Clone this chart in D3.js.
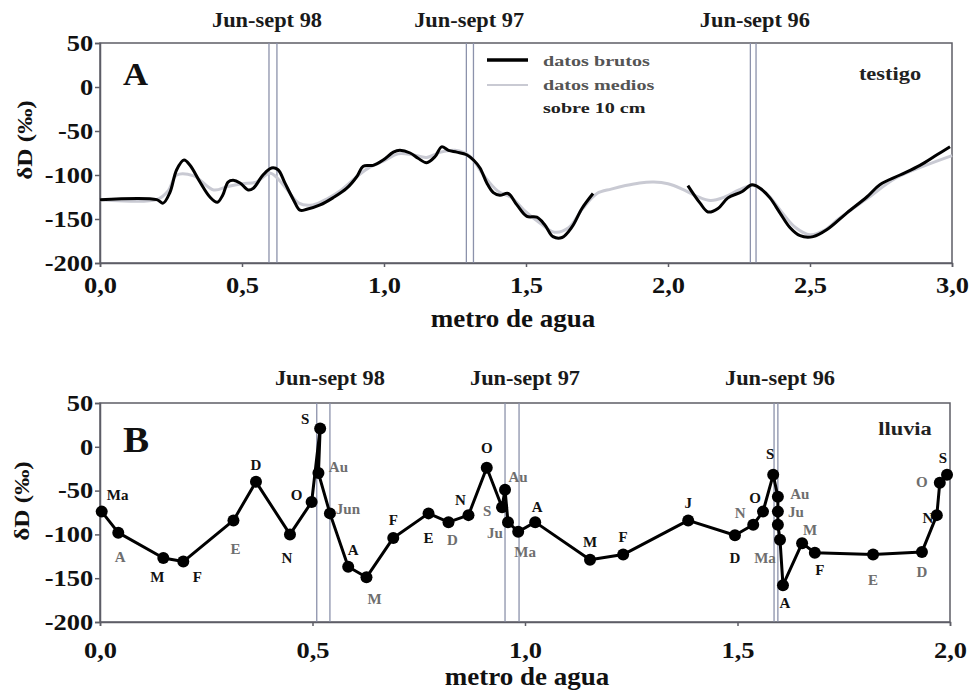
<!DOCTYPE html>
<html>
<head>
<meta charset="utf-8">
<script src="https://cdn.jsdelivr.net/npm/d3@7"></script>
<style>
  body { margin: 0; background: #fff; }
  text { font-family: "Liberation Serif", "Times New Roman", serif; font-weight: bold; }
</style>
</head>
<body>
<script>
// panel A (testigo): raw and 10 cm averaged deltaD vs depth
var rawDepth = [0, 0.2, 0.222, 0.246, 0.27, 0.296, 0.317, 0.352, 0.387, 0.413, 0.432, 0.451, 0.469, 0.493,
  0.522, 0.54, 0.574, 0.604, 0.627, 0.651, 0.681, 0.704, 0.728, 0.775, 0.82, 0.869, 0.904, 0.927, 0.962,
  0.997, 1.033, 1.056, 1.092, 1.12, 1.15, 1.18, 1.203, 1.227, 1.256, 1.291, 1.315, 1.338, 1.362, 1.385,
  1.408, 1.437, 1.468, 1.503, 1.538, 1.567, 1.595, 1.627, 1.662, 1.697, 1.736, 1.9,
  2.07, 2.113, 2.141, 2.176, 2.211, 2.26, 2.296, 2.324, 2.359, 2.394, 2.43, 2.465, 2.511, 2.56, 2.63,
  2.7, 2.746, 2.817, 2.887, 2.947, 2.993];
var rawDelta = [-128, -128, -132, -120, -94, -83, -89, -108, -125, -131, -123, -108, -106, -109,
  -117, -115, -100, -92, -94, -109, -128, -140, -139, -134, -126, -115, -102, -90, -89,
  -83, -74, -72, -75, -81, -86, -79, -68, -72, -74, -77, -83, -92, -109, -120,
  -123, -121, -134, -147, -148, -157, -170, -171, -159, -138, -121, null,
  -112, -132, -142, -138, -126, -119, -111, -115, -126, -143, -160, -169, -170, -162, -143,
  -125, -111, -100, -89, -77, -68];

var avgDepth = [0, 0.2, 0.24, 0.27, 0.33, 0.4, 0.45, 0.5, 0.55, 0.6, 0.65, 0.7, 0.75, 0.8, 0.85, 0.9,
  0.95, 1.0, 1.05, 1.1, 1.15, 1.2, 1.25, 1.3, 1.35, 1.4, 1.45, 1.5, 1.55, 1.6, 1.65, 1.7, 1.75, 1.8,
  1.85, 1.9, 1.95, 2.0, 2.05, 2.1, 2.15, 2.2, 2.25, 2.3, 2.35, 2.4, 2.45, 2.5, 2.55, 2.6, 2.7, 2.8,
  2.9, 3.0];
var avgDelta = [-128, -128, -118, -100, -101, -117, -113, -110, -108, -98, -113, -132, -134, -127, -117, -103,
  -91, -84, -76, -77, -80, -74, -72, -78, -100, -118, -126, -142, -155, -165, -160, -138, -121, -116,
  -112, -109, -108, -110, -116, -124, -129, -125, -117, -112, -122, -142, -160, -168, -163, -150, -127, -104,
  -90, -78];

var periodLinesA = [0.595, 0.623, 1.29, 1.315, 2.29, 2.31];
var periodLabelDepthA = [0.588, 1.30, 2.306];
var periodLabels = ["Jun-sept 98", "Jun-sept 97", "Jun-sept 96"];

// panel B (lluvia): monthly samples
var bDepth = [0.004, 0.043, 0.149, 0.196, 0.314, 0.367, 0.447, 0.498, 0.518, 0.514, 0.541, 0.584, 0.627,
  0.69, 0.773, 0.82, 0.867, 0.91, 0.946, 0.953, 0.96, 0.984, 1.024, 1.153, 1.231, 1.384, 1.494, 1.537,
  1.56, 1.584, 1.595, 1.595, 1.595, 1.6, 1.607, 1.652, 1.682, 1.819, 1.934, 1.969, 1.976, 1.993];
var bDelta = [-74, -98, -127, -131, -84, -40, -100, -63, 21, -30, -76, -137, -149,
  -104, -76, -86, -78, -24, -69, -49, -86, -97, -86, -129, -123, -84, -101, -89,
  -74, -32, -57, -74, -89, -106, -158, -110, -121, -123, -120, -78, -41, -32];
var bMonth = ["Ma", "A", "M", "F", "E", "D", "N", "O", "S", "Au", "Jun", "A", "M",
  "F", "E", "D", "N", "O", "S", "Au", "Ju", "Ma", "A", "M", "F", "J", "D", "N",
  "O", "S", "Au", "Ju", "", "Ma", "A", "M", "F", "E", "D", "N", "O", "S"];

var periodLinesB = [0.51, 0.541, 0.953, 0.986, 1.586, 1.595];
var periodLabelDepthB = [0.541, 1.0, 1.6];

// label offsets (px) from each dot, and which month labels print grey
var bLabelOffset = [[16, -17], [2, 24], [-6, 19], [14, 15], [2, 28], [0, -17], [-3, 23], [-15, -7], [-15, -10],
  [20, -6], [18, -5], [5, -17], [8, 21], [0, -18], [0, 24], [4, 18], [-8, -15], [0, -20], [-15, 4],
  [13, -13], [-13, 11], [7, 20], [2, -15], [0, -18], [0, -18], [0, -18], [0, 22], [-13, -12], [-8, -14],
  [-3, -21], [22, -3], [18, 0], [0, 0], [-15, 18], [2, 18], [8, -13], [5, 17], [0, 25], [0, 20], [-9, 3],
  [-18, -1], [-4, -17]];
var greyLabels = [1, 4, 9, 10, 12, 15, 18, 19, 20, 21, 27, 30, 31, 33, 35, 37, 38, 40];

var w = 974;
var h = 696;

var svg = d3.select("body").append("svg").attr("width", w).attr("height", h);

var loc = d3.formatLocale({decimal: ",", thousands: ".", grouping: [3], currency: ["", ""], minus: "-"});

// the original type is a wide bold Times, so stretch text horizontally
function wideText(x, y, str, size, sx, anchor, fill, rot) {
  var g = svg.append("g")
    .attr("transform", "translate(" + x + "," + y + ")" + (rot ? " rotate(" + rot + ")" : ""));
  return g.append("text")
    .attr("transform", "scale(" + sx + ",1)")
    .attr("text-anchor", anchor || "start")
    .style("font-size", size + "px")
    .style("fill", fill || "#111")
    .text(str);
}

function panel(opt) {
  var x = d3.scaleLinear().domain(opt.xDomain).range([opt.left, opt.right]);
  var y = d3.scaleLinear().domain([-200, 50]).range([opt.bottom, opt.top]);

  // frame
  svg.append("rect")
    .attr("x", opt.left).attr("y", opt.top)
    .attr("width", opt.right - opt.left).attr("height", opt.bottom - opt.top)
    .style("fill", "none").style("stroke", "#5d5d66").style("stroke-width", 1.5);

  // period lines
  svg.selectAll(null).data(opt.lines).enter().append("line")
    .attr("x1", d => x(d)).attr("x2", d => x(d))
    .attr("y1", opt.top).attr("y2", opt.bottom)
    .style("stroke", "#8c92ab").style("stroke-width", 1.3);

  opt.labelDepth.forEach(function (d, i) {
    wideText(x(d), opt.periodY, periodLabels[i], 20, 1.12, "middle", "#1a1a1a");
  });

  var yAxis = svg.append("g")
    .attr("transform", "translate(" + opt.left + ",0)")
    .call(d3.axisLeft(y).tickValues([50, 0, -50, -100, -150, -200]).tickSize(5).tickPadding(1)
      .tickFormat(loc.format("d")));
  var xAxis = svg.append("g")
    .attr("transform", "translate(0," + opt.bottom + ")")
    .call(d3.axisBottom(x).ticks(opt.nTicks).tickSize(4).tickPadding(opt.xPad)
      .tickFormat(loc.format(".1f")));
  [yAxis, xAxis].forEach(function (g) {
    g.select(".domain").style("stroke", "#5d5d66").style("stroke-width", 1.5);
    g.selectAll(".tick line").style("stroke", "#5d5d66").style("stroke-width", 1.5);
    g.selectAll("text").style("font-size", "23px").style("fill", "#111")
      .attr("transform", "scale(1.15,1)");
  });

  wideText(opt.titleX, opt.titleY, "metro de agua", 25, 1.08, "middle");
  wideText(opt.yLabelX, opt.yLabelY, "δD (‰)", 21, 1.2, "middle", "#111", -90);
  wideText(opt.left + 23, opt.top + opt.letterDy, opt.letter, opt.letterSize, 1.12, "start");
  wideText(opt.tagX, opt.top + opt.tagDy, opt.tag, 19, 1.18, "middle", "#222");

  return {x: x, y: y};
}

// ---- panel A
var A = panel({left: 100, right: 952, top: 43, bottom: 263, xDomain: [0, 3], nTicks: 6, xPad: 10,
  lines: periodLinesA, labelDepth: periodLabelDepthA, periodY: 27, titleX: 513, titleY: 327,
  letter: "A", letterSize: 31, letterDy: 42, tag: "testigo", tagX: 890, tagDy: 37,
  yLabelX: 32, yLabelY: 140});

var avgLine = d3.line()
  .x((d, i) => A.x(avgDepth[i]))
  .y(d => A.y(d))
  .curve(d3.curveCatmullRom.alpha(0.5));
svg.append("path")
  .attr("d", avgLine(avgDelta))
  .style("fill", "none").style("stroke", "#c9cad3").style("stroke-width", 3);

var rawLine = d3.line()
  .defined(d => d !== null)
  .x((d, i) => A.x(rawDepth[i]))
  .y(d => A.y(d))
  .curve(d3.curveCatmullRom.alpha(0.5));
svg.append("path")
  .attr("d", rawLine(rawDelta))
  .style("fill", "none").style("stroke", "#000").style("stroke-width", 3)
  .style("stroke-linejoin", "round");

// legend
svg.append("line").attr("x1", 487).attr("x2", 528).attr("y1", 60).attr("y2", 60)
  .style("stroke", "#000").style("stroke-width", 3.5);
svg.append("line").attr("x1", 487).attr("x2", 528).attr("y1", 85).attr("y2", 85)
  .style("stroke", "#c9cad3").style("stroke-width", 2);
["datos brutos", "datos medios", "sobre 10 cm"].forEach(function (d, i) {
  wideText(543, 66 + i * 23.5, d, 15.5, 1.3, "start", i < 2 ? "#555" : "#222");
});

// ---- panel B
var B = panel({left: 100, right: 950, top: 403, bottom: 622, xDomain: [0, 2], nTicks: 4, xPad: 16,
  lines: periodLinesB, labelDepth: periodLabelDepthB, periodY: 385, titleX: 527, titleY: 685,
  letter: "B", letterSize: 35, letterDy: 49, tag: "lluvia", tagX: 905, tagDy: 32,
  yLabelX: 29, yLabelY: 501});

var bLine = d3.line()
  .x((d, i) => B.x(bDepth[i]))
  .y(d => B.y(d));
svg.append("path")
  .attr("d", bLine(bDelta))
  .style("fill", "none").style("stroke", "#000").style("stroke-width", 3)
  .style("stroke-linejoin", "round");

svg.selectAll(".dot").data(bDelta).enter().append("circle")
  .attr("class", "dot")
  .attr("cx", (d, i) => B.x(bDepth[i]))
  .attr("cy", d => B.y(d))
  .attr("r", 6)
  .style("fill", "#000");

svg.selectAll(".month").data(bMonth).enter().append("text")
  .attr("class", "month")
  .attr("x", (d, i) => B.x(bDepth[i]) + bLabelOffset[i][0])
  .attr("y", (d, i) => B.y(bDelta[i]) + bLabelOffset[i][1])
  .attr("dy", "0.35em")
  .attr("text-anchor", "middle")
  .style("font-size", "15px")
  .style("fill", (d, i) => greyLabels.indexOf(i) >= 0 ? "#6e6e6e" : "#111")
  .text(d => d);
</script>
</body>
</html>
